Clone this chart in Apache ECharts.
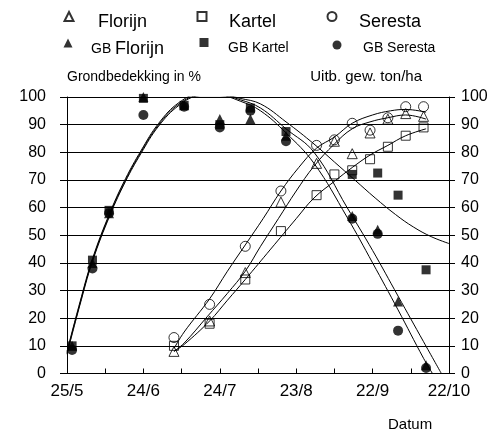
<!DOCTYPE html>
<html>
<head>
<meta charset="utf-8">
<script src="https://cdn.jsdelivr.net/npm/echarts@6/dist/echarts.min.js"></script>
<style>html,body{margin:0;padding:0;background:#fff}#c{width:493px;height:437px}</style>
</head>
<body>
<div id="c"></div>
<script>
// x values are days after 25/5
const xTickLabels = ['25/5', '24/6', '24/7', '23/8', '22/9', '22/10'];

// Grondbedekking (ground cover, %) observations
const gbDays = [2, 10, 16.5, 30, 46, 60, 72, 86, 112, 122, 130, 141];
const gbFlorijn = [10, 40, 58, 100, 97, 92, 92, 86, 57, 52, 26, 3];
const gbKartel = [10, 41, 59, 99.5, 97, 90, 96, 87.5, 72, 72.5, 64.5, 37.5];
const gbSeresta = [8.5, 38, 58, 93.5, 96.5, 89, 95, 84, 56, 50.5, 15.5, 2];

// Yield (ton/ha) observations
const yDays = [42, 56, 70, 84, 98, 105, 112, 119, 126, 133, 140];
const yFlorijn = [8, 19, 36.5, 62, 76, 84, 79.5, 87, 92, 94, 93];
const yKartel = [10, 18, 34, 51.5, 64.5, 72, 73.5, 77.5, 82, 86, 89];
const ySeresta = [13, 25, 46, 66, 82.5, 84.5, 90.5, 88, 92.5, 96.5, 96.5];

// Fitted curves
const fitGbADays = [0, 5, 10, 17, 23, 29, 36, 44, 52, 60, 68, 76, 86, 97, 110, 120, 130, 140, 143.5];
const fitGbA = [7.5, 25, 41, 58, 70, 80, 90, 97.5, 100.5, 100.5, 98.5, 95, 87, 76, 56.5, 40, 23, 5.5, 0];
const fitGbBDays = [0, 5, 10, 17, 23, 29, 36, 44, 52, 60, 68, 76, 86, 97, 110, 120, 130, 140, 147];
const fitGbB = [7, 24.5, 40.5, 57.5, 69.5, 79.5, 89.5, 97, 100.5, 100.8, 99, 96, 88.5, 80, 60, 44.5, 28, 11.5, 0];
const fitGbKDays = [0, 5, 10, 17, 23, 29, 36, 44, 52, 60, 68, 76, 86, 97, 105, 113, 121, 129, 136, 143, 150];
const fitGbK = [8, 25.5, 41.5, 58.5, 70.5, 80.5, 90.5, 98, 101, 101, 99.5, 97.5, 91, 83, 76.5, 70, 63.5, 57.5, 53, 49.5, 47];

const fitYSDays = [42, 46, 56, 63, 70, 77, 84, 91, 98, 105, 112, 120, 127, 133, 141];
const fitYS = [9, 15, 27, 37, 46.5, 56, 66, 74.5, 81.5, 85.5, 90.5, 93.5, 95, 95.5, 94.5];
const fitYFDays = [42, 46, 55, 63, 70, 76, 83, 90, 97, 105, 112, 119, 126, 133, 141];
const fitYF = [8, 11, 20.5, 29, 37, 46, 56, 66, 75, 83, 88.5, 91, 92.5, 93.5, 92];
const fitYKDays = [42, 46, 56, 63, 70, 80, 90, 97, 105, 112, 119, 126, 133, 141];
const fitYK = [8, 10.5, 19, 26.5, 34, 45, 56, 63.5, 69.5, 74.5, 79, 82.5, 86, 88.5];

const FONT = 'Liberation Sans';
const zip = (xs, ys) => xs.map((x, i) => [x, ys[i]]);

function scatter(name, days, vals, symbol, size, filled, yIdx) {
  return {
    type: 'scatter', name, yAxisIndex: yIdx, symbol, symbolSize: size,
    data: zip(days, vals), z: 5,
    itemStyle: filled ? { color: '#000' } : { color: 'rgba(0,0,0,0)', borderColor: '#000', borderWidth: 1 }
  };
}
function curve(days, vals, yIdx) {
  return {
    type: 'line', yAxisIndex: yIdx, data: zip(days, vals), smooth: 0.4,
    showSymbol: false, symbol: 'none', z: 3,
    lineStyle: { color: '#000', width: 1 }
  };
}

// legend marker only (no text)
function legendIcon(name, left, top, size) {
  return {
    data: [name], left, top, itemWidth: size, itemHeight: size, padding: 0,
    formatter: () => '', textStyle: { fontSize: 1 }
  };
}
// legend label only (invisible marker)
function legendLabel(name, textLeft, top, fontSize, rich) {
  const l = {
    data: [name], left: textLeft - 6, top, itemWidth: 1, itemHeight: 1, padding: 0,
    itemStyle: { color: 'rgba(0,0,0,0)', borderWidth: 0, opacity: 0 },
    textStyle: { fontFamily: FONT, fontSize, color: '#000' }
  };
  if (rich) {
    l.formatter = n => '{s|GB} {b|' + n.replace('GB ', '') + '}';
    l.textStyle.rich = {
      s: { fontFamily: FONT, fontSize: 14, color: '#000' },
      b: { fontFamily: FONT, fontSize: 18, color: '#000' }
    };
  }
  return l;
}

const chart = echarts.init(document.getElementById('c'), null, { renderer: 'canvas' });
chart.setOption({
  animation: false,
  backgroundColor: '#fff',
  textStyle: { fontFamily: FONT },
  grid: { left: 67, right: 44, top: 97, bottom: 60 },
  legend: [
    legendIcon('Florijn', 63.5, 11, 9),
    legendIcon('Kartel', 196.5, 11, 9),
    legendIcon('Seresta', 326.5, 11, 9),
    legendIcon('GB Florijn', 63.5, 38.5, 9),
    legendIcon('GB Kartel', 199.5, 38, 9),
    legendIcon('GB Seresta', 332.5, 40.5, 9),
    legendLabel('Florijn', 98, 13.5, 18),
    legendLabel('Kartel', 229, 13.5, 18),
    legendLabel('Seresta', 359, 13.5, 18),
    legendLabel('GB Florijn', 91, 40, 14, true),
    legendLabel('GB Kartel', 228, 41.5, 14),
    legendLabel('GB Seresta', 363, 41.5, 14)
  ],
  xAxis: {
    type: 'value', min: 0, max: 150, interval: 15,
    name: 'Datum', nameLocation: 'middle', nameGap: 51,
    nameTextStyle: { fontFamily: FONT, fontSize: 15, color: '#000', align: 'left', verticalAlign: 'middle', padding: [0, 0, 0, 130] },
    axisLine: { show: true, onZero: false, lineStyle: { color: '#000', width: 1 } },
    axisTick: { show: true, inside: true, length: 5, lineStyle: { color: '#000' } },
    axisLabel: {
      fontFamily: FONT, fontSize: 17, color: '#000', margin: 9,
      formatter: v => (v % 30 === 0 ? xTickLabels[v / 30] : '')
    },
    splitLine: { show: false }
  },
  yAxis: [
    {
      type: 'value', min: 0, max: 100, interval: 10, position: 'left',
      name: 'Grondbedekking in %', nameLocation: 'end', nameGap: 20,
      nameTextStyle: { fontFamily: FONT, fontSize: 14, color: '#000', align: 'left', verticalAlign: 'middle' },
      axisLine: { show: true, lineStyle: { color: '#000', width: 1 } },
      axisTick: { show: true, inside: false, length: 7, lineStyle: { color: '#000' } },
      axisLabel: { fontFamily: FONT, fontSize: 16, color: '#000', margin: 21 },
      splitLine: { show: true, lineStyle: { color: '#000', width: 1 } }
    },
    {
      type: 'value', min: 0, max: 100, interval: 10, position: 'right',
      name: 'Uitb. gew. ton/ha', nameLocation: 'end', nameGap: 20,
      nameTextStyle: { fontFamily: FONT, fontSize: 15, color: '#000', align: 'right', verticalAlign: 'middle', padding: [0, 27, 0, 0] },
      axisLine: { show: true, lineStyle: { color: '#000', width: 1 } },
      axisTick: { show: true, inside: false, length: 6, lineStyle: { color: '#000' } },
      axisLabel: { fontFamily: FONT, fontSize: 16, color: '#000', margin: 12 },
      splitLine: { show: false }
    }
  ],
  series: [
    curve(fitGbADays, fitGbA, 0),
    curve(fitGbBDays, fitGbB, 0),
    curve(fitGbKDays, fitGbK, 0),
    curve(fitYSDays, fitYS, 1),
    curve(fitYFDays, fitYF, 1),
    curve(fitYKDays, fitYK, 1),
    scatter('Florijn', yDays, yFlorijn, 'triangle', 10, false, 1),
    scatter('Kartel', yDays, yKartel, 'rect', 9, false, 1),
    scatter('Seresta', yDays, ySeresta, 'circle', 10, false, 1),
    scatter('GB Florijn', gbDays, gbFlorijn, 'triangle', 10, true, 0),
    scatter('GB Kartel', gbDays, gbKartel, 'rect', 9, true, 0),
    scatter('GB Seresta', gbDays, gbSeresta, 'circle', 10, true, 0)
  ]
});
</script>
</body>
</html>
